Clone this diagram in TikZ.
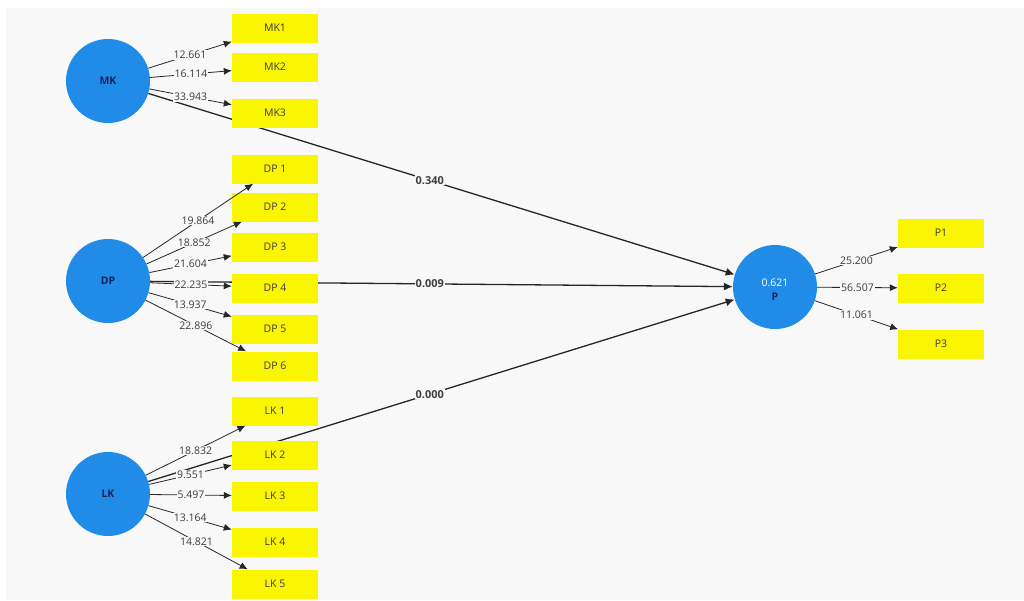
\documentclass[tikz,border=0pt]{standalone}
\usepackage{fontspec}
\setmainfont{Open Sans}
\usetikzlibrary{arrows.meta}
\definecolor{bgc}{RGB}{248,248,248}
\definecolor{lvblue}{RGB}{33,140,232}
\definecolor{indy}{RGB}{250,245,0}
\definecolor{navy}{RGB}{25,35,90}
\definecolor{txt}{RGB}{60,60,60}
\pgfdeclarelayer{bglayer}
\pgfdeclarelayer{edges}
\pgfsetlayers{bglayer,edges,main}
\tikzset{
  lv/.style={circle,fill=lvblue,minimum size=84pt,inner sep=0pt,font=\fontsize{10.5}{12}\selectfont\bfseries,text=navy},
  ind/.style={rectangle,fill=indy,minimum width=86pt,minimum height=29pt,inner sep=0pt,font=\fontsize{10.5}{12}\selectfont,text=txt},
  load/.style={draw=black!85,line width=0.8pt,-{Latex[length=8pt,width=7pt]}},
  path/.style={draw=black!85,line width=1.3pt,-{Latex[length=9pt,width=8pt]}},
  lbl/.style={fill=bgc,inner sep=0.8pt,font=\fontsize{10.5}{12}\selectfont,text=txt},
  plbl/.style={fill=bgc,inner sep=1pt,font=\fontsize{11}{12}\selectfont\bfseries,text=black!75}
}
\begin{document}
\begin{tikzpicture}[x=1pt,y=-1pt]
\useasboundingbox (0,0) rectangle (1024,600);
\begin{pgfonlayer}{bglayer}
\fill[white] (0,0) rectangle (1024,600);
\fill[bgc] (6,8) rectangle (1024,600);
\end{pgfonlayer}
% latent variables
\node[lv] (MK) at (108,81) {MK};
\node[lv] (DP) at (108,281) {DP};
\node[lv] (LK) at (108,494) {LK};
\node[lv] (P) at (775,287) {};
\node[font=\fontsize{10.5}{12}\selectfont,text=white,inner sep=0pt] (Pr2) at (775,283) {0.621};
\node[font=\fontsize{10.5}{12}\selectfont\bfseries,text=navy,inner sep=0pt] (Pn) at (775,297) {P};
% indicators
\node[ind] (MK1) at (275,28) {MK1};
\node[ind] (MK2) at (275,67) {MK2};
\node[ind] (MK3) at (275,113) {MK3};
\node[ind] (DP1) at (275,169) {DP 1};
\node[ind] (DP2) at (275,207) {DP 2};
\node[ind] (DP3) at (275,247) {DP 3};
\node[ind] (DP4) at (275,288) {DP 4};
\node[ind] (DP5) at (275,329) {DP 5};
\node[ind] (DP6) at (275,366) {DP 6};
\node[ind] (LK1) at (275,411) {LK 1};
\node[ind] (LK2) at (275,455) {LK 2};
\node[ind] (LK3) at (275,496) {LK 3};
\node[ind] (LK4) at (275,542) {LK 4};
\node[ind] (LK5) at (275,584) {LK 5};
\node[ind] (P1) at (941,233) {P1};
\node[ind] (P2) at (941,288) {P2};
\node[ind] (P3) at (941,344) {P3};
% structural paths (under boxes)
\begin{pgfonlayer}{edges}
\draw[path] (MK) -- node[plbl,pos=0.48]{0.340} (P);
\draw[path] (DP) -- node[plbl,pos=0.48]{0.009} (P);
\draw[path] (LK) -- node[plbl,pos=0.48]{0.000} (P);
\end{pgfonlayer}
% loadings
\draw[load] (MK) -- node[lbl]{12.661} (MK1);
\draw[load] (MK) -- node[lbl]{16.114} (MK2);
\draw[load] (MK) -- node[lbl]{33.943} (MK3);
\draw[load] (DP) -- node[lbl]{19.864} (DP1);
\draw[load] (DP) -- node[lbl]{18.852} (DP2);
\draw[load] (DP) -- node[lbl]{21.604} (DP3);
\draw[load] (DP) -- node[lbl]{22.235} (DP4);
\draw[load] (DP) -- node[lbl]{13.937} (DP5);
\draw[load] (DP) -- node[lbl]{22.896} (DP6);
\draw[load] (LK) -- node[lbl]{18.832} (LK1);
\draw[load] (LK) -- node[lbl]{9.551} (LK2);
\draw[load] (LK) -- node[lbl]{5.497} (LK3);
\draw[load] (LK) -- node[lbl]{13.164} (LK4);
\draw[load] (LK) -- node[lbl]{14.821} (LK5);
\draw[load] (P) -- node[lbl]{25.200} (P1);
\draw[load] (P) -- node[lbl]{56.507} (P2);
\draw[load] (P) -- node[lbl]{11.061} (P3);
\end{tikzpicture}
\end{document}
